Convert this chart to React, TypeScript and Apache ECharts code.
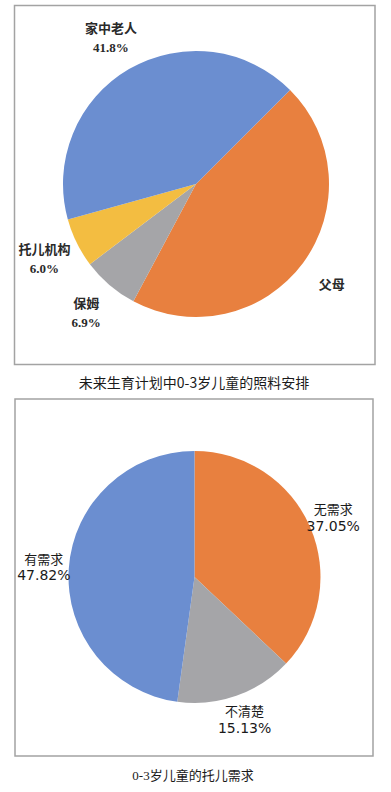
import React, { useEffect, useRef } from "react";
import * as echarts from "echarts";

const careNames = ["父母", "保姆", "托儿机构", "家中老人"];
const careValues = [45.3, 6.9, 6.0, 41.8];
const careShowPct = [false, true, true, true];
const careColors = ["#e8803f", "#a5a5a8", "#f3bd41", "#6b8ed0"];

const needNames = ["无需求", "不清楚", "有需求"];
const needValues = [37.05, 15.13, 47.82];
const needColors = ["#e8803f", "#a5a5a8", "#6b8ed0"];

const topCaption = "未来生育计划中0-3岁儿童的照料安排";
const bottomCaption = "0-3岁儿童的托儿需求";

export default function App() {
  const ref = useRef<HTMLDivElement>(null);
  useEffect(() => {
    if (!ref.current) return;
    const chart = echarts.init(ref.current, undefined, { renderer: "svg" });
    const careData = careNames.map((n, i) => ({ name: n, value: careValues[i] }));
    const needData = needNames.map((n, i) => ({ name: n, value: needValues[i] }));
    const topCenter = [196, 184];
    const botCenter = [194.5, 577];
    const serifBold = {
      fontFamily: "'Liberation Serif', 'Noto Sans CJK SC', serif",
      fontWeight: "bold" as const,
      fontSize: 13,
      color: "#2a2a2a",
      lineHeight: 19,
    };
    const sans = {
      fontFamily: "'DejaVu Sans', 'Noto Sans CJK SC', sans-serif",
      fontSize: 14,
      color: "#1a1a1a",
      lineHeight: 17,
    };
    chart.setOption({
      animation: false,
      backgroundColor: "#ffffff",
      graphic: [
        {
          type: "rect",
          shape: { x: 14.5, y: 5.5, width: 360.5, height: 359 },
          style: { fill: "none", stroke: "#a3a3a3", lineWidth: 1.5 },
        },
        {
          type: "rect",
          shape: { x: 15, y: 399, width: 358, height: 357 },
          style: { fill: "none", stroke: "#a3a3a3", lineWidth: 1.5 },
        },
        {
          type: "text",
          x: 194,
          y: 382,
          style: {
            text: topCaption,
            fontFamily: "'Noto Sans CJK SC', sans-serif",
            fontSize: 14,
            fill: "#1a1a1a",
            align: "center",
            verticalAlign: "middle",
          },
        },
        {
          type: "text",
          x: 193,
          y: 775,
          style: {
            text: bottomCaption,
            fontFamily: "'Liberation Serif', 'Noto Sans CJK SC', serif",
            fontSize: 13,
            fill: "#1a1a1a",
            align: "center",
            verticalAlign: "middle",
          },
        },
      ],
      series: [
        {
          type: "pie",
          center: topCenter,
          radius: 133,
          startAngle: 45,
          clockwise: true,
          silent: true,
          data: careData,
          color: careColors,
          label: { show: false },
          labelLine: { show: false },
          itemStyle: { borderWidth: 0 },
        },
        {
          type: "pie",
          center: topCenter,
          radius: [133, 199],
          startAngle: 45,
          clockwise: true,
          silent: true,
          data: careData,
          itemStyle: { color: "rgba(0,0,0,0)" },
          label: {
            show: true,
            position: "inside",
            ...serifBold,
            formatter: (p: any) =>
              careShowPct[p.dataIndex]
                ? `${p.name}\n${Number(p.value).toFixed(1)}%`
                : p.name,
          },
          labelLine: { show: false },
        },
        {
          type: "pie",
          center: botCenter,
          radius: 126,
          startAngle: 90,
          clockwise: true,
          silent: true,
          data: needData,
          color: needColors,
          label: { show: false },
          labelLine: { show: false },
          itemStyle: { borderWidth: 0 },
        },
        {
          type: "pie",
          center: botCenter,
          radius: [126, 170],
          startAngle: 90,
          clockwise: true,
          silent: true,
          data: needData,
          itemStyle: { color: "rgba(0,0,0,0)" },
          label: {
            show: true,
            position: "inside",
            ...sans,
            formatter: (p: any) => `{c|${p.name}}\n${Number(p.value).toFixed(2)}%`,
            rich: {
              c: {
                fontFamily: "'Noto Sans CJK SC', sans-serif",
                fontSize: 13,
                color: "#1a1a1a",
                lineHeight: 17,
              },
            },
          },
          labelLine: { show: false },
        },
      ],
    });
    return () => chart.dispose();
  }, []);
  return (
    <div
      ref={ref}
      style={{ position: "absolute", left: 0, top: 0, width: 391, height: 792 }}
    />
  );
}
